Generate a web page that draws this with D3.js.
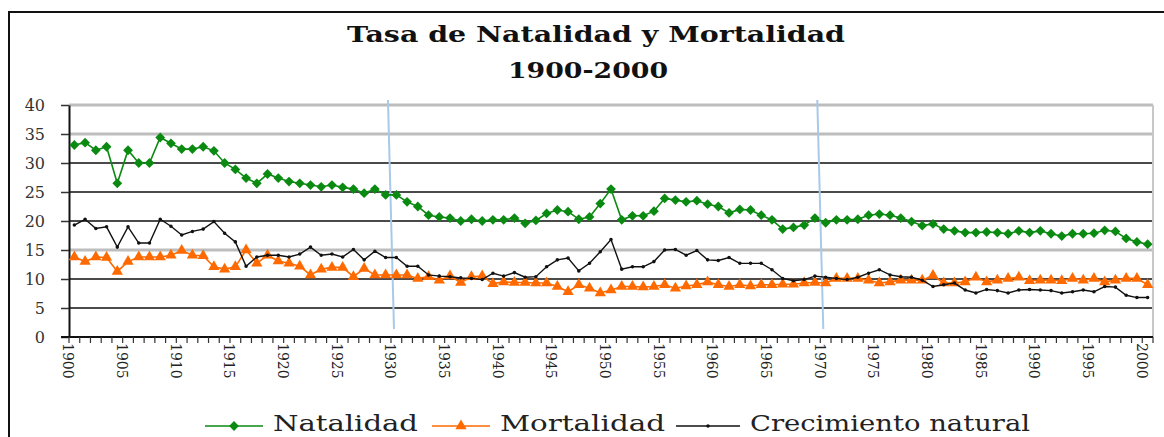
<!DOCTYPE html>
<html>
<head>
<meta charset="utf-8">
<script src="https://cdn.jsdelivr.net/npm/d3@7"></script>
<style>
  body { margin: 0; background: #fff; }
  svg { display: block; }
</style>
</head>
<body>
<div id="chart"></div>
<script>
// Data
const years = d3.range(1900, 2001)
const natalidad = [
  33.1, 33.5, 32.2, 32.8, 26.5, 32.2, 30.0, 30.0, 34.4, 33.4,
  32.4, 32.4, 32.8, 32.1, 30.0, 28.9, 27.4, 26.5, 28.1, 27.4,
  26.8, 26.5, 26.2, 25.9, 26.2, 25.8, 25.5, 24.8, 25.5, 24.5,
  24.5, 23.3, 22.5, 21.0, 20.7, 20.5, 20.0, 20.3, 20.0, 20.2,
  20.2, 20.5, 19.6, 20.1, 21.3, 21.9, 21.6, 20.3, 20.7, 23.0,
  25.5, 20.2, 20.9, 20.9, 21.7, 23.9, 23.6, 23.3, 23.5, 22.9,
  22.5, 21.4, 22.0, 21.9, 21.0, 20.2, 18.6, 18.9, 19.3, 20.5,
  19.7, 20.2, 20.2, 20.3, 21.0, 21.2, 21.0, 20.5, 19.9, 19.2,
  19.5, 18.6, 18.3, 18.0, 18.0, 18.1, 18.0, 17.8, 18.3, 18.0,
  18.3, 17.8, 17.4, 17.8, 17.8, 17.9, 18.4, 18.2, 17.0, 16.4,
  16.0
]
const mortalidad = [
  13.8, 13.0, 13.8, 13.7, 11.3, 13.0, 13.8, 13.8, 13.8, 14.1,
  14.9, 14.1, 14.0, 12.1, 11.7, 12.1, 15.0, 12.7, 14.1, 13.1,
  12.7, 12.2, 10.7, 11.7, 12.0, 12.0, 10.4, 11.8, 10.7, 10.7,
  10.7, 10.7, 10.1, 10.4, 9.8, 10.5, 9.4, 10.4, 10.5, 9.2,
  9.5, 9.4, 9.4, 9.3, 9.3, 8.7, 7.8, 9.0, 8.4, 7.6,
  8.1, 8.7, 8.7, 8.6, 8.7, 9.0, 8.4, 8.8, 9.0, 9.5,
  9.0, 8.7, 9.0, 8.8, 9.0, 9.0, 9.1, 9.1, 9.3, 9.4,
  9.3, 10.1, 10.1, 10.1, 9.8, 9.3, 9.5, 9.8, 9.8, 9.8,
  10.6, 9.3, 9.3, 9.5, 10.3, 9.5, 9.8, 10.1, 10.3, 9.7,
  9.8, 9.8, 9.7, 10.1, 9.8, 10.1, 9.5, 9.8, 10.1, 10.1,
  9.0
]
const crecimiento = [
  19.3, 20.3, 18.7, 19.0, 15.5, 19.0, 16.2, 16.2, 20.3, 19.1,
  17.6, 18.2, 18.6, 19.9, 17.9, 16.4, 12.2, 13.8, 14.1, 14.1,
  13.8, 14.3, 15.5, 14.1, 14.3, 13.8, 15.1, 13.3, 14.8, 13.7,
  13.7, 12.2, 12.2, 10.7, 10.5, 10.4, 10.2, 10.1, 9.9, 11.0,
  10.5, 11.1, 10.3, 10.4, 12.1, 13.3, 13.6, 11.4, 12.7, 14.7,
  16.8, 11.7, 12.1, 12.1, 13.0, 15.0, 15.1, 14.1, 14.9, 13.3,
  13.2, 13.7, 12.7, 12.7, 12.7, 11.6, 10.1, 9.7, 9.9, 10.5,
  10.3, 10.1, 9.9, 10.3, 11.0, 11.6, 10.7, 10.4, 10.3, 9.8,
  8.7, 9.0, 9.3, 8.1, 7.6, 8.2, 8.0, 7.6, 8.1, 8.2,
  8.1, 8.0, 7.6, 7.8, 8.1, 7.8, 8.7, 8.6, 7.2, 6.8,
  6.8
]
const yTicks = [0, 5, 10, 15, 20, 25, 30, 35, 40]
const xLabels = [1900, 1905, 1910, 1915, 1920, 1925, 1930, 1935, 1940, 1945, 1950,
  1955, 1960, 1965, 1970, 1975, 1980, 1985, 1990, 1995, 2000]
const markYears = [1930, 1970]
const seriesNames = ['Natalidad', 'Mortalidad', 'Crecimiento natural']

// Dimensions
const width = 1164, height = 437
const plot = { left: 69, right: 1153, top: 105, bottom: 337 }
const serif = 'DejaVu Serif, Liberation Serif, serif'

const svg = d3.select('#chart')
  .append('svg')
  .attr('width', width)
  .attr('height', height)

// outer frame (only top and left edges are visible)
svg.append('path')
  .attr('d', `M9,${height} V12 H${width}`)
  .attr('fill', 'none')
  .attr('stroke', '#111')
  .attr('stroke-width', 2)

// Title
svg.append('text')
  .attr('x', 596).attr('y', 42)
  .attr('text-anchor', 'middle')
  .attr('font-family', serif).attr('font-weight', 'bold').attr('font-size', 22)
  .attr('textLength', 498).attr('lengthAdjust', 'spacingAndGlyphs')
  .attr('fill', '#111')
  .text('Tasa de Natalidad y Mortalidad')
svg.append('text')
  .attr('x', 588).attr('y', 78)
  .attr('text-anchor', 'middle')
  .attr('font-family', serif).attr('font-weight', 'bold').attr('font-size', 22)
  .attr('textLength', 160).attr('lengthAdjust', 'spacingAndGlyphs')
  .attr('fill', '#111')
  .text('1900-2000')

// Scales
const xBand = d3.scaleBand()
  .domain(years)
  .range([plot.left, plot.right])
const xAccessor = (d, i) => xBand(years[i]) + xBand.bandwidth() / 2
const yScale = d3.scaleLinear()
  .domain([0, 40])
  .range([plot.bottom, plot.top])

// gridlines
const lightGrid = [15, 35, 40]
svg.append('g')
  .selectAll('line')
  .data(yTicks.filter(d => d > 0))
  .join('line')
  .attr('x1', plot.left).attr('x2', plot.right)
  .attr('y1', d => yScale(d)).attr('y2', d => yScale(d))
  .attr('stroke', d => lightGrid.includes(d) ? '#bdbdbd' : '#4a4a4a')
  .attr('stroke-width', d => lightGrid.includes(d) ? 3 : 2.2)

// right edge of plot
svg.append('line')
  .attr('x1', plot.right).attr('x2', plot.right)
  .attr('y1', plot.top).attr('y2', plot.bottom)
  .attr('stroke', '#c8c8c8').attr('stroke-width', 2)

// blue marker lines
svg.append('g')
  .selectAll('line')
  .data(markYears)
  .join('line')
  .attr('x1', d => xBand(d) - 3).attr('x2', d => xBand(d) + 3)
  .attr('y1', 100).attr('y2', 329)
  .attr('stroke', '#a9c9ea').attr('stroke-width', 2)

// y axis
const yAxis = d3.axisLeft(yScale)
  .tickValues(yTicks)
  .tickSize(8)
  .tickSizeOuter(0)
const yG = svg.append('g')
  .attr('transform', `translate(${plot.left},0)`)
  .call(yAxis)
yG.attr('font-family', null)
yG.select('.domain').attr('stroke', '#111').attr('stroke-width', 2)
yG.selectAll('.tick line').attr('stroke', '#333').attr('stroke-width', 1.5)
yG.selectAll('.tick text')
  .attr('x', -24)
  .attr('font-family', serif).attr('font-size', 16).attr('fill', '#333')

// x axis: line, minor ticks at category boundaries, rotated labels
svg.append('line')
  .attr('x1', plot.left - 8).attr('x2', plot.right)
  .attr('y1', plot.bottom).attr('y2', plot.bottom)
  .attr('stroke', '#111').attr('stroke-width', 2)
svg.append('g')
  .selectAll('line')
  .data(years.concat([2001]))
  .join('line')
  .attr('x1', d => d === 2001 ? plot.right : xBand(d))
  .attr('x2', d => d === 2001 ? plot.right : xBand(d))
  .attr('y1', plot.bottom).attr('y2', plot.bottom + 6)
  .attr('stroke', '#333').attr('stroke-width', 1.2)
svg.append('g')
  .selectAll('text')
  .data(xLabels)
  .join('text')
  .attr('transform', d => `translate(${xBand(d) + xBand.bandwidth() / 2 - 6},343) rotate(90)`)
  .attr('dy', '0.35em')
  .attr('font-family', serif).attr('font-size', 14).attr('fill', '#222')
  .text(d => d)

// Lines
const line = d3.line()
  .x(xAccessor)
  .y(d => yScale(d))

const series = [
  { name: seriesNames[0], values: natalidad, color: '#0b8a12', width: 1.6, symbol: d3.symbolSquare, size: 48, rot: 45 },
  { name: seriesNames[1], values: mortalidad, color: '#ff6a00', width: 1.6, symbol: d3.symbolTriangle, size: 55, rot: 0 },
  { name: seriesNames[2], values: crecimiento, color: '#111', width: 1.4, symbol: d3.symbolCircle, size: 10, rot: 0 }
]

series.forEach(s => {
  const g = svg.append('g')
  g.append('path')
    .datum(s.values)
    .attr('d', line)
    .attr('fill', 'none')
    .attr('stroke', s.color)
    .attr('stroke-width', s.width)
  g.selectAll('path.m')
    .data(s.values)
    .join('path')
    .attr('class', 'm')
    .attr('transform', (d, i) => `translate(${xAccessor(d, i)},${yScale(d)}) rotate(${s.rot})`)
    .attr('d', d3.symbol().type(s.symbol).size(s.size))
    .attr('fill', s.color)
})

// Legend
const legendItems = [
  { x1: 205, x2: 263, tx: 273, tl: 145 },
  { x1: 432, x2: 490, tx: 500, tl: 165 },
  { x1: 676, x2: 740, tx: 750, tl: 280 }
]
const legend = svg.append('g')
legendItems.forEach((l, i) => {
  const s = series[i]
  legend.append('line')
    .attr('x1', l.x1).attr('x2', l.x2)
    .attr('y1', 426).attr('y2', 426)
    .attr('stroke', s.color).attr('stroke-width', s.width)
  legend.append('path')
    .attr('transform', `translate(${(l.x1 + l.x2) / 2},426) rotate(${s.rot})`)
    .attr('d', d3.symbol().type(s.symbol).size(s.size))
    .attr('fill', s.color)
  legend.append('text')
    .attr('x', l.tx).attr('y', 431)
    .attr('font-family', serif).attr('font-size', 23).attr('fill', '#222')
    .attr('textLength', l.tl).attr('lengthAdjust', 'spacingAndGlyphs')
    .text(s.name)
})
</script>
</body>
</html>
